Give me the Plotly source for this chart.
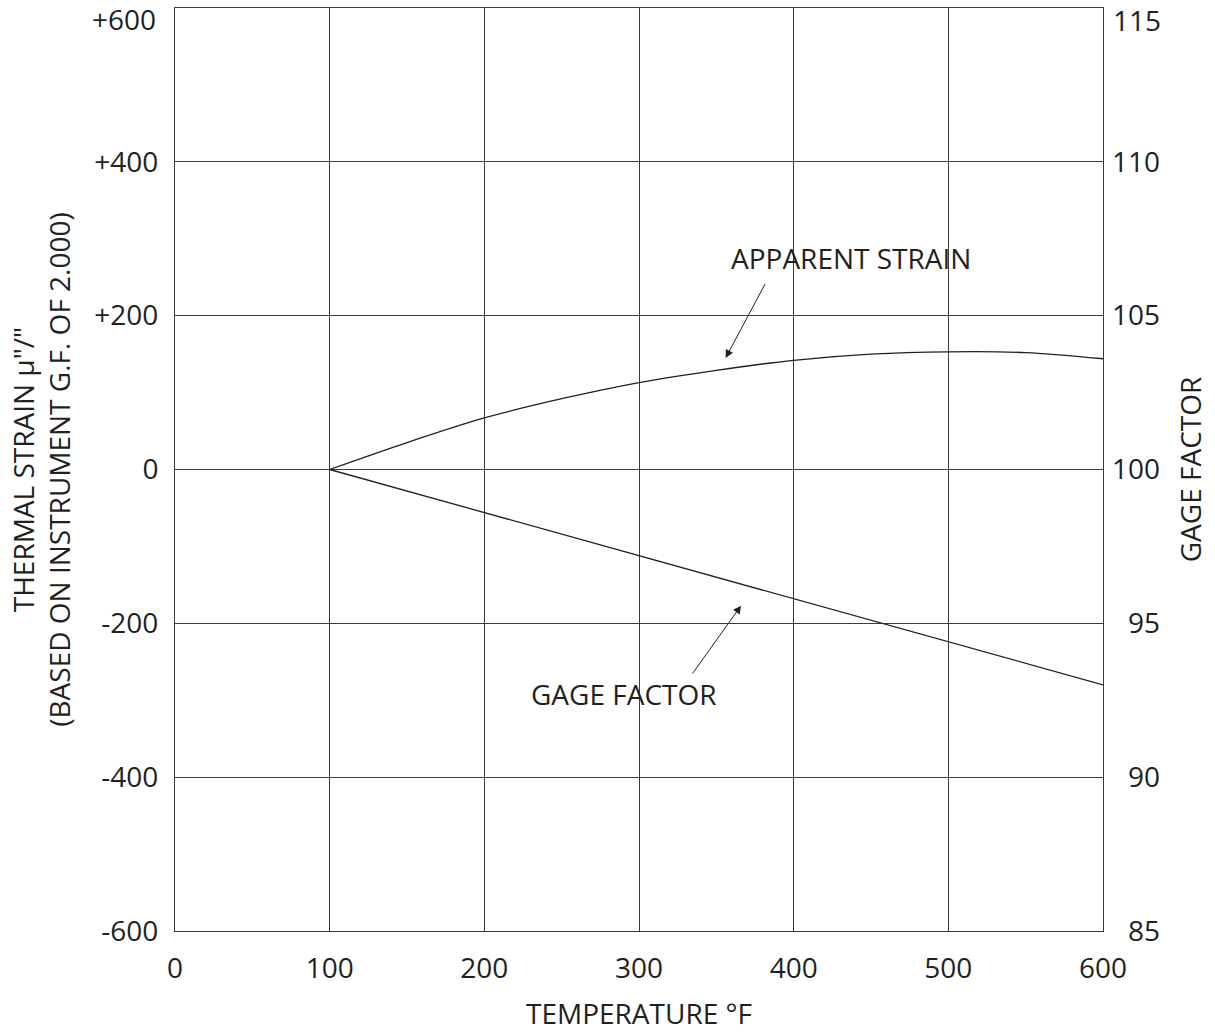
import plotly.graph_objects as go

# ---- data ----
temps = [100, 150, 200, 250, 300, 350, 400, 450, 500, 550, 600]
apparent_strain = [0, 35, 67, 92, 113, 129, 142, 150, 153, 152, 144]
gf_temps = [100, 200, 300, 400, 500, 600]
gage_factor = [100.0, 98.6, 97.2, 95.8, 94.4, 93.0]

x_ticks = [0, 100, 200, 300, 400, 500, 600]
y_ticks = [-600, -400, -200, 0, 200, 400]
y_ticktext = ["-600", "-400", "-200", "0", "+200", "+400"]
gf_ticks = [85, 90, 95, 100, 105, 110]
gf_ticktext = ["\u200785", "\u200790", "\u200795", "100", "105", "110"]

FONT = "Open Sans, Noto Sans, sans-serif"
INK = "#231f20"
GRID = "#3c3c3c"
FS = 28

fig = go.Figure()
fig.add_trace(go.Scatter(x=temps, y=apparent_strain, mode="lines",
                         line=dict(color=INK, width=1.3, shape="spline", smoothing=0.8),
                         name="Apparent strain", showlegend=False, hoverinfo="skip"))
fig.add_trace(go.Scatter(x=gf_temps, y=gage_factor, mode="lines", yaxis="y2",
                         line=dict(color=INK, width=1.3),
                         name="Gage factor", showlegend=False, hoverinfo="skip"))

fig.update_layout(
    template="none",
    width=1215, height=1032,
    margin=dict(l=175, r=112, t=8, b=101),
    paper_bgcolor="white", plot_bgcolor="white",
    font=dict(family=FONT, size=FS, color=INK),
    xaxis=dict(range=[0, 600], tickvals=x_ticks, ticktext=[str(v) for v in x_ticks],
               showgrid=True, gridcolor=GRID, gridwidth=1, automargin=False,
               showline=True, linecolor=GRID, linewidth=1, mirror=True,
               zeroline=False, ticks="", ticklabelstandoff=12,
               title=dict(text="TEMPERATURE °F", font=dict(size=FS), standoff=22)),
    yaxis=dict(range=[-600, 600], tickvals=y_ticks, ticktext=y_ticktext,
               showgrid=True, gridcolor=GRID, gridwidth=1, automargin=False,
               showline=True, linecolor=GRID, linewidth=1, mirror=True,
               zeroline=False, ticks="", ticklabelstandoff=10,
               title=dict(text="THERMAL STRAIN µ\"/\"<br>(BASED ON INSTRUMENT G.F. OF 2.000)",
                          font=dict(size=FS), standoff=15)),
    yaxis2=dict(range=[85, 115], overlaying="y", side="right", automargin=False,
                tickvals=gf_ticks, ticktext=gf_ticktext,
                showgrid=False, zeroline=False, showline=False, ticks="",
                ticklabelstandoff=8,
                title=dict(text="GAGE FACTOR", font=dict(size=FS), standoff=22)),
)

# top tick labels (shifted down so they stay on the page, as in the reference)
fig.add_annotation(x=0, xref="paper", y=600, yref="y", text="+600", showarrow=False,
                   xanchor="right", yanchor="middle", xshift=-17, yshift=-11,
                   font=dict(size=FS, color=INK))
fig.add_annotation(x=1, xref="paper", y=115, yref="y2", text="115", showarrow=False,
                   xanchor="left", yanchor="middle", xshift=8, yshift=-12,
                   font=dict(size=FS, color=INK))

# labels
fig.add_annotation(x=437, y=275, xref="x", yref="y", text="APPARENT STRAIN",
                   showarrow=False, font=dict(size=FS, color=INK))
fig.add_annotation(x=290, y=-292, xref="x", yref="y", text="GAGE FACTOR",
                   showarrow=False, font=dict(size=FS, color=INK))
# arrows
fig.add_annotation(x=356, y=145, ax=382, ay=243, xref="x", yref="y", axref="x", ayref="y",
                   text="", showarrow=True, arrowhead=2, arrowsize=1.6, arrowwidth=1,
                   arrowcolor=INK, standoff=0, startstandoff=0)
fig.add_annotation(x=366, y=-177, ax=334, ay=-267, xref="x", yref="y", axref="x", ayref="y",
                   text="", showarrow=True, arrowhead=2, arrowsize=1.6, arrowwidth=1,
                   arrowcolor=INK, standoff=0, startstandoff=0)

fig.write_html("out.html", config={"displayModeBar": False},
               post_script="document.body.style.margin='0px';")
